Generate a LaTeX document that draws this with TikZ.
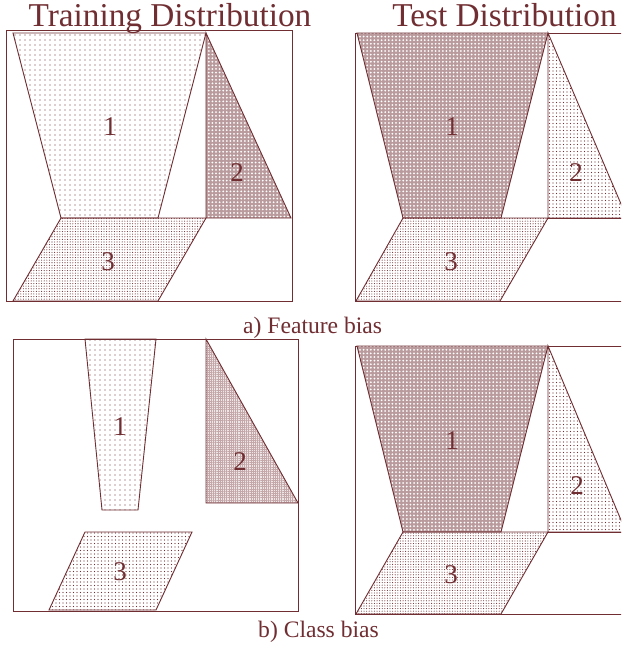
\documentclass[tikz,border=0pt]{standalone}
\usepackage{fontspec}
\setmainfont{Liberation Serif}
\usetikzlibrary{patterns.meta}
\definecolor{ink}{RGB}{112,46,50}
\tikzset{
  region/.style={draw=ink, line width=0.9pt, line join=miter},
  sparsedots/.style={region, pattern={Dots[distance=5pt,radius=0.7pt]}, pattern color=ink},
  meddots/.style={region, pattern={Dots[distance=3.5pt,radius=0.6pt]}, pattern color=ink},
  densedots/.style={region, pattern={Dots[distance=2.6pt,radius=0.55pt]}, pattern color=ink},
  darkfill/.style={region, preaction={fill=ink!48!white}, pattern={Dots[distance=3.6pt,radius=1pt]}, pattern color=white},
  gridfill/.style={region, preaction={fill=ink!12!white}, pattern={Hatch[angle=0,distance=2.2pt,line width=0.4pt]}, pattern color=ink!42},
  frame/.style={draw=ink, line width=0.9pt},
  num/.style={text=ink, font=\fontsize{27}{30}\selectfont, inner sep=0pt},
  title/.style={text=ink, font=\fontsize{33.3}{38}\selectfont, inner sep=0pt, anchor=base},
  caption/.style={text=ink, font=\fontsize{23.6}{28}\selectfont, inner sep=0pt, anchor=base west}
}
\begin{document}
\begin{tikzpicture}[x=1pt,y=-1pt]
\useasboundingbox (0,0) rectangle (621,645);
\clip (0,0) rectangle (621,645);
\fill[white] (0,0) rectangle (621,645);

% ---------- a) training ----------
\draw[frame] (6,30) rectangle (292,301);
\draw[sparsedots] (13,33) -- (206,33) -- (158,218) -- (61,218) -- cycle;
\draw[darkfill] (206,33) -- (206,218) -- (291,218) -- cycle;
\draw[densedots] (61,218) -- (206,218) -- (158,301) -- (13,301) -- cycle;
\node[num] (ta1) at (110,127) {1};
\node[num] (ta2) at (237,173) {2};
\node[num] (ta3) at (108,262) {3};

% ---------- a) test ----------
\draw[frame] (355,33) rectangle (700,301);
\draw[darkfill] (357,33) -- (548,33) -- (501,218) -- (403,218) -- cycle;
\draw[meddots] (548,33) -- (548,218) -- (627,218) -- cycle;
\draw[frame] (548,218) -- (700,218);
\draw[densedots] (403,218) -- (548,218) -- (500,301) -- (356,301) -- cycle;
\node[num] (sa1) at (452,127) {1};
\node[num] (sa2) at (576,173) {2};
\node[num] (sa3) at (451,262) {3};

% ---------- b) training ----------
\draw[frame] (13,339) rectangle (298,611);
\draw[sparsedots] (85,339) -- (156,339) -- (138,510) -- (102,510) -- cycle;
\draw[gridfill] (206,339) -- (206,503) -- (298,503) -- cycle;
\draw[meddots] (85,532) -- (192,532) -- (156,610) -- (49,610) -- cycle;
\node[num] (tb1) at (120,427) {1};
\node[num] (tb2) at (240,462) {2};
\node[num] (tb3) at (120,572) {3};

% ---------- b) test ----------
\draw[frame] (355,346) rectangle (700,614);
\draw[darkfill] (357,346) -- (548,346) -- (501,532) -- (403,532) -- cycle;
\draw[meddots] (548,346) -- (548,532) -- (626,532) -- cycle;
\draw[frame] (548,532) -- (700,532);
\draw[densedots] (403,532) -- (548,532) -- (501,614) -- (356,614) -- cycle;
\node[num] (sb1) at (452,441) {1};
\node[num] (sb2) at (577,486) {2};
\node[num] (sb3) at (451,575) {3};

% ---------- titles and captions ----------
\node[title] (train) at (170,26) {Training Distribution};
\node[title] (test) at (504.5,26) {Test Distribution};
\node[caption] (capa) at (243,333) {a) Feature bias};
\node[caption] (capb) at (258,637) {b) Class bias};
\end{tikzpicture}
\end{document}
